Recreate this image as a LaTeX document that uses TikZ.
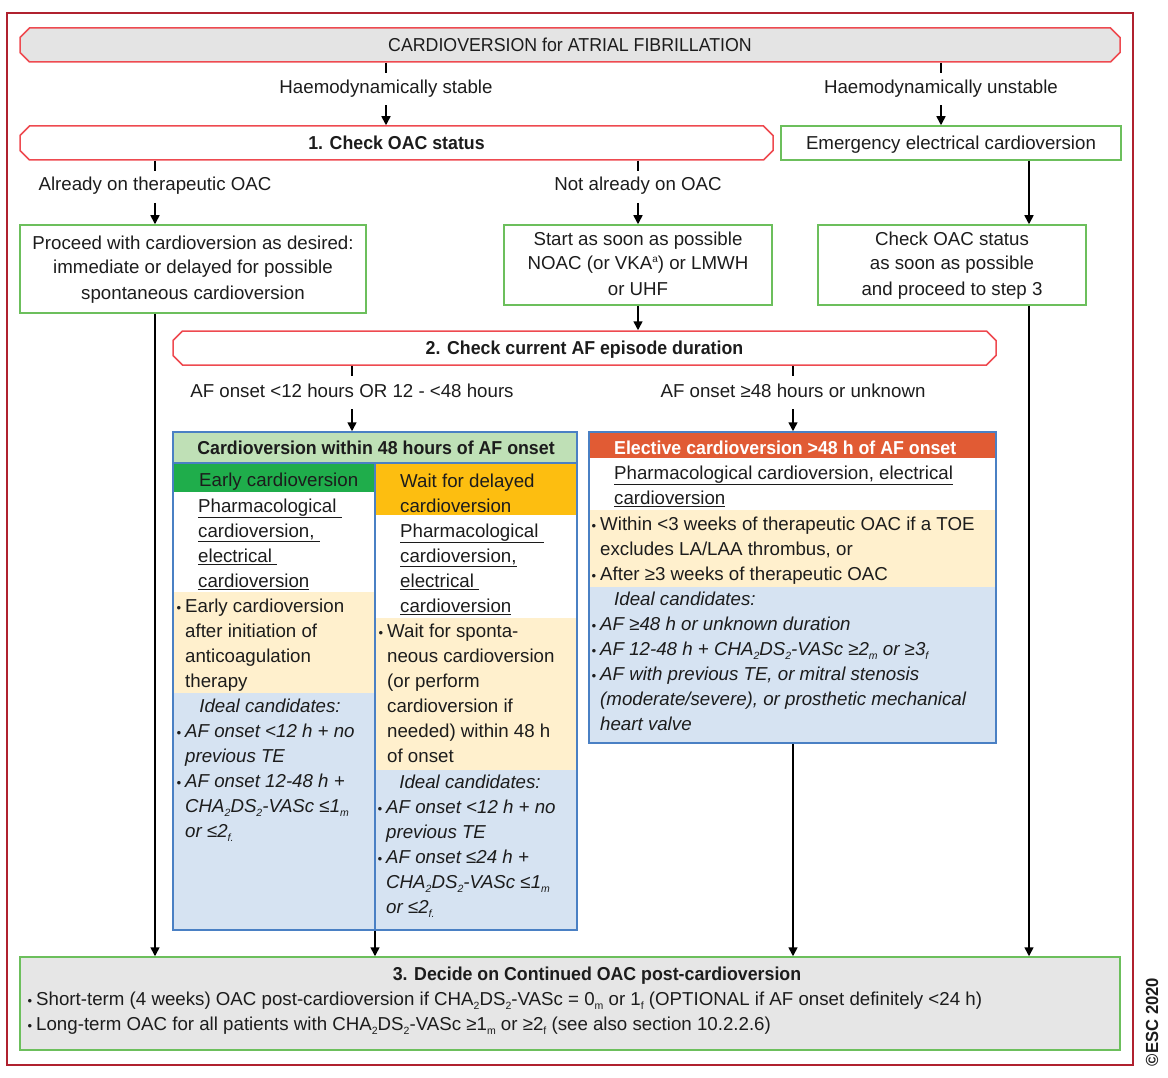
\documentclass[tikz,border=0pt]{standalone}
\usepackage{fontspec}
\setmainfont{Liberation Sans}[BoldFeatures={FakeStretch=0.95}]
\newfontfamily\hdrf{Liberation Sans}[FakeStretch=0.95]
\usetikzlibrary{arrows.meta,shapes.misc}
\definecolor{frame}{HTML}{B0212F}
\definecolor{redl}{HTML}{EE4A50}
\definecolor{grn}{HTML}{6CBF5C}
\definecolor{hgray}{HTML}{E4E4E4}
\definecolor{blu}{HTML}{4A80C4}
\definecolor{lgreen}{HTML}{BFE0B6}
\definecolor{dgreen}{HTML}{1FAD4B}
\definecolor{orng}{HTML}{FDBE10}
\definecolor{rorng}{HTML}{E15B34}
\definecolor{beige}{HTML}{FFF0CD}
\definecolor{lblue}{HTML}{D6E3F2}
\definecolor{bgray}{HTML}{E6E6E6}
\definecolor{ink}{HTML}{1C1C1C}
\newcommand\lo[1]{\raisebox{-0.45ex}{\fontsize{10.5}{10.5}\selectfont #1}}
\newcommand\hi[1]{\raisebox{0.75ex}{\fontsize{10}{10}\selectfont #1}}
\newcommand\bul{\llap{{\fontsize{13}{13}\selectfont•}\hspace{4pt}}}
\newcommand\fs{\fontsize{18.7}{25}\selectfont}
\tikzset{
 txt/.style={inner sep=0pt, text=ink, font=\fs},
 one/.style={text height=13.5pt, text depth=0pt},
 chbox/.style={chamfered rectangle, chamfered rectangle xsep=6pt, draw=redl, line width=1.5pt, inner sep=0pt},
 gbox/.style={rectangle, draw=grn, line width=1.5pt, inner sep=0pt},
 bbox/.style={rectangle, draw=blu, line width=1.5pt, inner sep=0pt},
 arr/.style={-{Triangle[width=9pt,length=9pt]}, line width=1.6pt},
 tick/.style={line width=1.6pt},
}
\begin{document}
\begin{tikzpicture}[x=1pt,y=-1pt]
\useasboundingbox (0,0) rectangle (1168,1078);
% outer frame
\node[draw=frame, line width=2pt, minimum width=1126pt, minimum height=1052pt, inner sep=0pt] (frame) at (570,539) {};
% header and first row
\node[chbox, txt, one, fill=hgray, minimum width=1100pt, minimum height=34pt, font=\fs\hdrf] (hdr) at (570,45) {CARDIOVERSION for ATRIAL FIBRILLATION};
\node[txt, anchor=base] (stable) at (386,93.5) {Haemodynamically stable};
\node[txt, anchor=base] (unstable) at (941,93.5) {Haemodynamically unstable};
\node[chbox, txt, one, minimum width=753pt, minimum height=34pt, font=\fs\bfseries] (box1) at (396.5,143) {1. Check OAC status};
\node[gbox, txt, one, minimum width=340pt, minimum height=34pt] (emerg) at (951,143) {Emergency electrical cardioversion};
\node[txt, anchor=base] (already) at (155,191) {Already on therapeutic OAC};
\node[txt, anchor=base] (notalready) at (638,191) {Not already on OAC};
\node[gbox, txt, align=center, minimum width=346pt, minimum height=88pt] (proceed) at (193,269) {\strut Proceed with cardioversion as desired:\\\strut immediate or delayed for possible\\\strut spontaneous cardioversion};
\node[gbox, txt, align=center, minimum width=268pt, minimum height=80pt] (start) at (638,265) {\strut Start as soon as possible\\\strut NOAC (or VKA\hi{a}) or LMWH\\\strut or UHF};
\node[gbox, txt, align=center, minimum width=268pt, minimum height=80pt] (checkoac) at (952,265) {\strut Check OAC status\\\strut as soon as possible\\\strut and proceed to step 3};
\node[chbox, txt, one, minimum width=823pt, minimum height=34pt, font=\fs\bfseries] (box2) at (584.5,348) {2. Check current AF episode duration};
\node[txt, anchor=base] (lt48) at (352,397) {AF onset <12 hours OR 12 - <48 hours};
\node[txt, anchor=base] (gt48) at (793,397) {AF onset ≥48 hours or unknown};
\coordinate (c1029) at (1029,0);
\coordinate (div) at (375,0);
% left big box bands
\fill[lgreen] (173,432) rectangle (577,463);
\fill[dgreen] (173,463) rectangle (375,492);
\fill[beige] (173,592) rectangle (375,693);
\fill[lblue] (173,693) rectangle (375,930);
\fill[orng] (375,463) rectangle (577,515);
\fill[beige] (375,618) rectangle (577,770);
\fill[lblue] (375,770) rectangle (577,930);
\draw[blu, line width=1.5pt] (173,463) -- (577,463);
\draw[blu, line width=1.5pt] (375,463) -- (375,930);
\node[bbox, minimum width=404pt, minimum height=498pt] (leftbig) at (375,681) {};
\node[txt, anchor=base, font=\fs\bfseries] (lefthd) at (376,454) {Cardioversion within 48 hours of AF onset};
\node[txt, anchor=north west, align=left] (ec) at (199,468.5) {\strut Early cardioversion};
\node[txt, anchor=north west, align=left] (ecu) at (198,494.5) {\strut\underline{Pharmacological\ }\\\strut\underline{cardioversion,\ }\\\strut\underline{electrical\ }\\\strut\underline{cardioversion}};
\node[txt, anchor=north west, align=left] (ecb) at (185,594.5) {\strut\bul Early cardioversion\\\strut after initiation of\\\strut anticoagulation\\\strut therapy};
\node[txt, anchor=base, font=\fs\itshape] (eci) at (270,712) {Ideal candidates:};
\node[txt, anchor=north west, align=left, font=\fs\itshape] (ecl) at (185,719.5) {\strut\bul AF onset <12 h + no\\\strut previous TE\\\strut\bul AF onset 12-48 h +\\\strut CHA\lo2DS\lo2-VASc ≤1\lo m\\\strut or ≤2\lo{f.}};
\node[txt, anchor=north west, align=left] (wd) at (400,469.5) {\strut Wait for delayed\\\strut cardioversion};
\node[txt, anchor=north west, align=left] (wdu) at (400,519.5) {\strut\underline{Pharmacological\ }\\\strut\underline{cardioversion,}\\\strut\underline{electrical\ }\\\strut\underline{cardioversion}};
\node[txt, anchor=north west, align=left] (wdb) at (387,619.5) {\strut\bul Wait for sponta-\\\strut neous cardioversion\\\strut (or perform\\\strut cardioversion if\\\strut needed) within 48 h\\\strut of onset};
\node[txt, anchor=base, font=\fs\itshape] (wdi) at (470,788) {Ideal candidates:};
\node[txt, anchor=north west, align=left, font=\fs\itshape] (wdl) at (386,795.5) {\strut\bul AF onset <12 h + no\\\strut previous TE\\\strut\bul AF onset ≤24 h +\\\strut CHA\lo2DS\lo2-VASc ≤1\lo m\\\strut or ≤2\lo{f.}};
% right big box
\fill[rorng] (589,432) rectangle (996,458);
\fill[beige] (589,510) rectangle (996,587);
\fill[lblue] (589,587) rectangle (996,743);
\node[bbox, minimum width=407pt, minimum height=311pt] (rightbig) at (792.5,587.5) {};
\node[txt, anchor=base west, text=white, font=\fs\bfseries] (rh) at (614,454) {Elective cardioversion >48 h of AF onset};
\node[txt, anchor=north west, align=left] (rhu) at (614,461.5) {\strut\underline{Pharmacological cardioversion, electrical}\\\strut\underline{cardioversion}};
\node[txt, anchor=north west, align=left] (rb) at (600,512.5) {\strut\bul Within <3 weeks of therapeutic OAC if a TOE\\\strut excludes LA/LAA thrombus, or\\\strut\bul After ≥3 weeks of therapeutic OAC};
\node[txt, anchor=north west, align=left, font=\fs\itshape] (ri) at (600,587.5) {\strut\hspace{14pt}Ideal candidates:\\\strut\bul AF ≥48 h or unknown duration\\\strut\bul AF 12-48 h + CHA\lo2DS\lo2-VASc ≥2\lo m or ≥3\lo f\\\strut\bul AF with previous TE, or mitral stenosis\\\strut (moderate/severe), or prosthetic mechanical\\\strut heart valve};
% bottom box
\node[gbox, fill=bgray, minimum width=1100pt, minimum height=93pt] (box3) at (570,1003.5) {};
\node[txt, anchor=base, font=\fs\bfseries] (b3t) at (597,980) {3. Decide on Continued OAC post-cardioversion};
\node[txt, anchor=north west, align=left] (b3l) at (36,987.5) {\strut\bul Short-term (4 weeks) OAC post-cardioversion if CHA\lo2DS\lo2-VASc = 0\lo m or 1\lo f (OPTIONAL if AF onset definitely <24 h)\\\strut\bul Long-term OAC for all patients with CHA\lo2DS\lo2-VASc ≥1\lo m or ≥2\lo f (see also section 10.2.2.6)};
\node[txt, rotate=90, font=\fontsize{17.5}{17.5}\selectfont\bfseries] (copy) at (1152,1022) {©ESC 2020};
% connectors
\draw[tick] (hdr.south -| stable) -- ++(0,10);
\draw[tick] (hdr.south -| unstable) -- ++(0,10);
\draw[arr] ([yshift=-12pt]stable.base) -- (box1.north -| stable);
\draw[arr] ([yshift=-12pt]unstable.base) -- (emerg.north -| unstable);
\draw[tick] (box1.south -| already) -- ++(0,10);
\draw[tick] (box1.south -| notalready) -- ++(0,10);
\draw[arr] ([yshift=-12pt]already.base) -- (proceed.north -| already);
\draw[arr] ([yshift=-12pt]notalready.base) -- (start.north -| notalready);
\draw[arr] (emerg.south -| c1029) -- (checkoac.north -| c1029);
\draw[arr] (start.south) -- (box2.north -| start.south);
\draw[arr] (proceed.south -| already) -- (box3.north -| already);
\draw[arr] (checkoac.south -| c1029) -- (box3.north -| c1029);
\draw[tick] (box2.south -| lt48) -- ++(0,10);
\draw[tick] (box2.south -| gt48) -- ++(0,10);
\draw[arr] ([yshift=-12pt]lt48.base) -- (leftbig.north -| lt48);
\draw[arr] ([yshift=-12pt]gt48.base) -- (rightbig.north -| gt48);
\draw[arr] (leftbig.south -| div) -- (box3.north -| div);
\draw[arr] (rightbig.south -| gt48) -- (box3.north -| gt48);
\end{tikzpicture}
\end{document}
